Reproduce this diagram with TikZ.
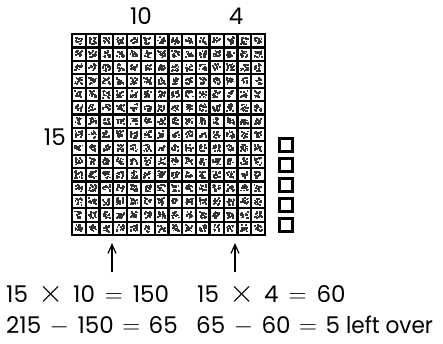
\documentclass[tikz,border=0pt]{standalone}
\usepackage{fontspec}
\setmainfont{Poppins}
\usetikzlibrary{arrows.meta}
\newcommand{\sy}[2][8.5]{\hspace{#1pt}#2\hspace{#1pt}}
\newcommand{\stimes}{{\fontsize{26}{28}\selectfont\scalebox{1.3}{$\times$}}}
\newcommand{\sminus}{{\fontsize{26}{28}\selectfont$-$}}
\newcommand{\seq}{{\fontsize{26}{28}\selectfont$=$}}
\begin{document}
\begin{tikzpicture}[x=1pt,y=-1pt,
  lbl/.style={font=\fontsize{23}{26}\selectfont, inner sep=0pt},
  eqn/.style={lbl, anchor=base west},
  gridline/.style={line width=2.2pt},
  unitbox/.style={draw, line width=2.2pt, minimum size=13pt, inner sep=0pt},
  upar/.style={line width=1.2pt, -{Straight Barb[length=9pt,width=8pt,line width=1.2pt]}}]
\useasboundingbox (0,0) rectangle (443,343);
\def\gl{72}\def\gr{265}\def\gt{34}\def\gb{235}
\pgfmathsetmacro\cw{(\gr-\gl)/14}
\pgfmathsetmacro\ch{(\gb-\gt)/15}
% speckles
\pgfmathsetseed{11}
\foreach \i in {0,...,13}{
  \foreach \j in {0,...,14}{
    \foreach \k in {1,...,18}{
      \pgfmathsetmacro\px{\gl+\i*\cw+2.4+rnd*(\cw-6.6)}
      \pgfmathsetmacro\py{\gt+\j*\ch+2.4+rnd*(\ch-6.6)}
      \fill[black!80] (\px,\py) rectangle ++(1.8,1.8);
    }
  }
}
% grid lines
\foreach \i in {0,...,14}{
  \pgfmathsetmacro\xx{\gl+\i*\cw}
  \draw[gridline] (\xx,\gt) -- (\xx,\gb);
}
\foreach \j in {0,...,15}{
  \pgfmathsetmacro\yy{\gt+\j*\ch}
  \draw[gridline] (\gl,\yy) -- (\gr,\yy);
}
\pgfmathsetmacro\xd{\gl+10*\cw}
\draw[line width=3.2pt] (\xd,\gt) -- (\xd,\gb);
\draw[line width=2.6pt] (\gl,\gt) rectangle (\gr,\gb);
% labels
\node[lbl] (ten) at (141,16) {10};
\node[lbl] (four) at (236,16) {4};
\node[lbl, anchor=east] (fifteen) at (66,137) {15};
% unit squares
\foreach \n/\yy in {1/145,2/165,3/185,4/205,5/225}{
  \node[unitbox] (u\n) at (286,\yy) {};
}
% arrows
\coordinate (a1s) at (112,272);
\coordinate (a1e) at (112,243);
\coordinate (a2s) at (235,272);
\coordinate (a2e) at (235,243);
\draw[upar] (a1s) -- (a1e);
\draw[upar] (a2s) -- (a2e);
% equations
\node[eqn] (e1) at (6,302) {15\sy[10]{\stimes}10\sy[10]{\seq}150};
\node[eqn] (e2) at (197,302) {15\sy[10]{\stimes}4\sy[10]{\seq}60};
\node[eqn] (e3) at (6,333) {215\sy{\sminus}150\sy{\seq}65};
\node[eqn] (e4) at (196,333) {65\sy{\sminus}60\sy{\seq}5 \scalebox{0.94}[1]{left over}};
\end{tikzpicture}
\end{document}
